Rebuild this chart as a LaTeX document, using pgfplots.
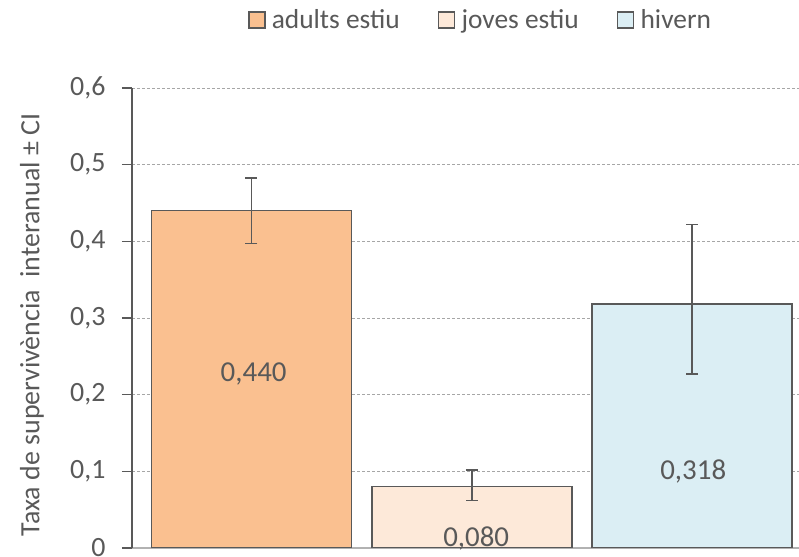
\documentclass[border=0pt]{standalone}
\usepackage{pgfplots}
\pgfplotsset{compat=1.18}
\usepackage{fontspec}
\setmainfont{Carlito}
\definecolor{txt}{HTML}{595959}
\definecolor{adults}{HTML}{FAC090}
\definecolor{joves}{HTML}{FDE9D9}
\definecolor{hivern}{HTML}{DBEEF4}
\pgfplotsset{
    mybar/.style={ybar, bar shift=0pt, bar width=200bp, fill=#1, draw=txt, line width=1.6bp,
        error bars/.cd, y dir=both, y explicit,
        error bar style={line width=1.6bp, draw=txt},
        error mark options={rotate=90, mark size=6bp, line width=1.6bp, draw=txt}},
}
\begin{document}
\begin{tikzpicture}
\begin{axis}[
    name=ax,
    scale only axis,
    width=667bp, height=460bp,
    xmin=-0.542, xmax=2.485,
    ymin=0, ymax=0.6,
    ytick={0,0.1,...,0.6},
    xtick=\empty,
    axis x line*=bottom,
    axis y line*=left,
    axis line style={draw=txt, line width=1.6bp},
    x axis line style={draw=black!30, line width=1.2bp},
    tick align=outside,
    major tick length=10bp,
    tick style={draw=txt, line width=1.4bp},
    ymajorgrids,
    grid style={dash pattern=on 3bp off 2bp, draw=black!35, line width=0.9bp},
    yticklabel style={/pgf/number format/use comma, /pgf/number format/fixed,
        /pgf/number format/assume math mode=true,
        font=\fontsize{28}{30}\selectfont, text=txt, xshift=-13bp},
    ylabel={Taxa de supervivència\ \ interanual ± CI},
    every axis y label/.style={at={(axis description cs:-0.15,0.485)}, rotate=90, anchor=center,
        font=\fontsize{28}{30}\selectfont, text=txt},
    legend style={at={(0.5,1)}, anchor=center, xshift=15bp, yshift=68bp, draw=none,
        font=\fontsize{27.5}{29}\selectfont, text=txt,
        /tikz/every even column/.append style={column sep=36bp}},
    legend columns=-1,
    legend image code/.code={\draw[#1, draw=txt, line width=1.6bp] (0bp,-8bp) rectangle (16bp,8bp);
        \path[draw=none, fill=none] (0bp,0bp) -- (21bp,0bp);},
]
\addplot[mybar=adults]
    coordinates {(0,0.440) += (0,0.043) -= (0,0.043)};
\addplot[mybar=joves]
    coordinates {(1,0.080) += (0,0.022) -= (0,0.018)};
\addplot[mybar=hivern]
    coordinates {(2,0.318) += (0,0.104) -= (0,0.091)};
\legend{adults estiu, joves estiu, hivern}
\addplot[draw=none, mark=none, forget plot, point meta=explicit symbolic,
    nodes near coords,
    every node near coord/.style={anchor=center, font=\fontsize{29}{31}\selectfont, text=txt}]
    coordinates {(0.01,0.2265)[0,440] (1.02,0.013)[0,080] (2.005,0.1004)[0,318]};
\end{axis}
\pgfresetboundingbox
\path[use as bounding box] (ax.south west) ++(-132bp,-9bp) rectangle ++(799bp,557bp);
\end{tikzpicture}
\end{document}
